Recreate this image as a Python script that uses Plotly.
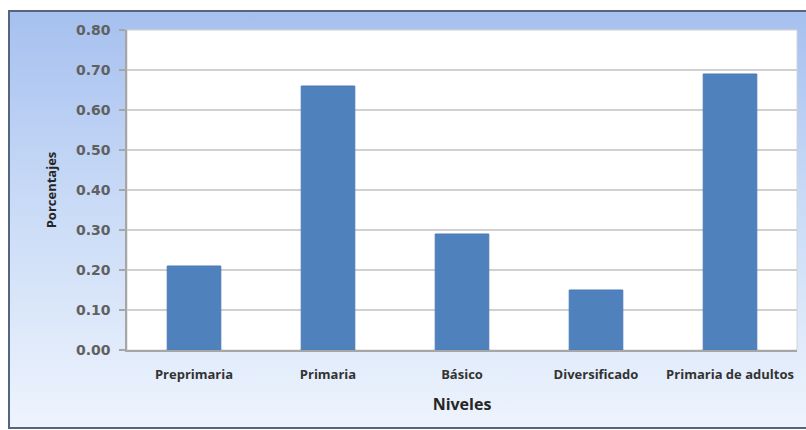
import base64
import plotly.graph_objects as go

categories = ["Preprimaria", "Primaria", "Básico", "Diversificado", "Primaria de adultos"]
values = [0.21, 0.66, 0.29, 0.15, 0.69]
y_ticks = [0.0, 0.1, 0.2, 0.3, 0.4, 0.5, 0.6, 0.7, 0.8]
y_ticklabels = ["0.00", "0.10", "0.20", "0.30", "0.40", "0.50", "0.60", "0.70", "0.80"]

W, H = 806, 430
L, R, T, B = 127, 9, 30, 80
pw, ph = W - L - R, H - T - B

def px_x(x):
    return (x - L) / pw

def px_y(y):
    return (H - B - y) / ph

svg = (
    '<svg xmlns="http://www.w3.org/2000/svg" width="100" height="100" preserveAspectRatio="none">'
    '<defs><linearGradient id="g" x1="0" y1="0" x2="0" y2="1">'
    '<stop offset="0" stop-color="#a6c0ef"/>'
    '<stop offset="0.45" stop-color="#c8daf6"/>'
    '<stop offset="1" stop-color="#eef4fd"/>'
    '</linearGradient></defs>'
    '<rect width="100" height="100" fill="url(#g)"/></svg>'
)
src = "data:image/svg+xml;base64," + base64.b64encode(svg.encode()).decode()

fig = go.Figure()
fig.add_trace(go.Bar(
    x=categories, y=values,
    marker=dict(color="#4f81bd", line=dict(color="#4a7ab5", width=1)),
    width=0.4,
))

fx0, fx1 = px_x(9), px_x(812)
fy1, fy0 = px_y(11), px_y(428)

fig.update_layout(
    width=W, height=H,
    margin=dict(l=L, r=R, t=T, b=B),
    paper_bgcolor="white",
    plot_bgcolor="rgba(0,0,0,0)",
    showlegend=False,
    images=[dict(source=src, xref="paper", yref="paper", x=fx0, y=fy1,
                 sizex=fx1 - fx0, sizey=fy1 - fy0, sizing="stretch",
                 xanchor="left", yanchor="top", layer="below")],
    shapes=[
        dict(type="rect", xref="paper", yref="paper", x0=0, x1=1, y0=0, y1=1,
             fillcolor="white", line=dict(color="#d4d4d4", width=1), layer="below"),
        dict(type="rect", xref="paper", yref="paper", x0=fx0, x1=fx1, y0=fy0, y1=fy1,
             fillcolor="rgba(0,0,0,0)", line=dict(color="#55657f", width=2), layer="above"),
    ],
    xaxis=dict(
        showgrid=False, showline=True, linecolor="#a6a6a6", linewidth=1.5,
        ticks="", ticklabelstandoff=12,
        tickfont=dict(family="Open Sans", size=13, color="#333333", weight="bold"),
        title=dict(text="Niveles", font=dict(family="Open Sans", size=16, color="#262626", weight="bold"),
                   standoff=16),
    ),
    yaxis=dict(
        range=[0, 0.8], tickvals=y_ticks, ticktext=y_ticklabels,
        showgrid=True, gridcolor="#d0d0d0", gridwidth=1.5,
        showline=True, linecolor="#a6a6a6", linewidth=1.5,
        ticks="outside", ticklen=6, tickcolor="#a6a6a6", tickwidth=1.5,
        ticklabelstandoff=6,
        tickfont=dict(family="DejaVu Sans", size=14, color="#606060", weight="bold"),
        title=dict(text="Porcentajes", font=dict(family="Open Sans", size=13, color="#262626", weight="bold"),
                   standoff=16),
        zeroline=False,
    ),
)

fig.write_html("out.html")
